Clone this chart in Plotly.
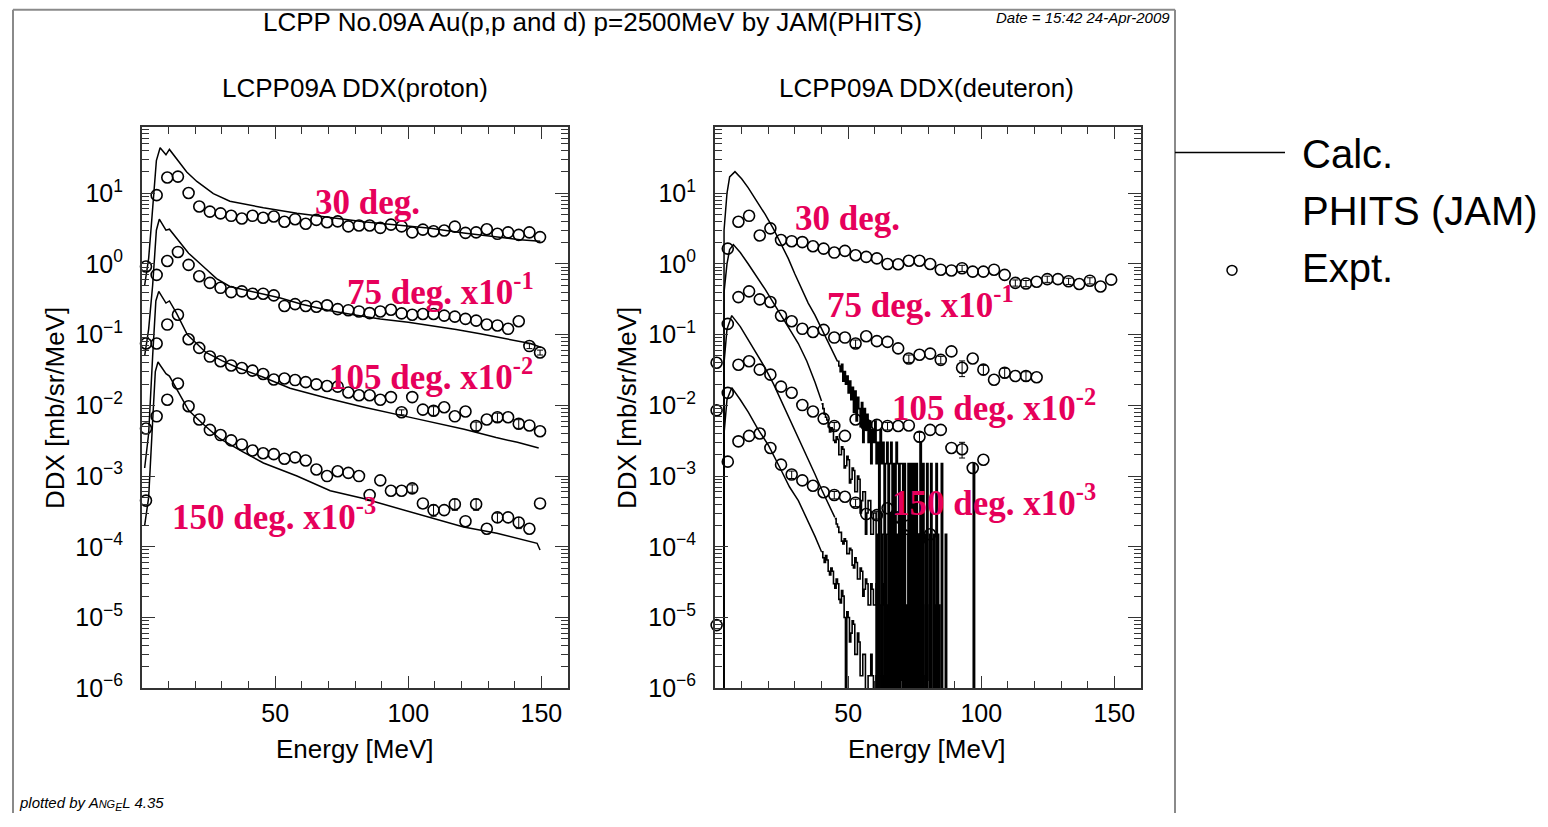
import plotly.graph_objects as go

W, H = 1548, 827

# ---------------- Proton DDX (left panel) ----------------
P_E = [1.5, 5.5, 9.5, 13.5, 17.5, 21.5, 25.5, 29.5, 33.5, 37.5, 41.5, 45.5, 49.5, 53.5,
       57.5, 61.5, 65.5, 69.5, 73.5, 77.5, 81.5, 85.5, 89.5, 93.5, 97.5, 101.5, 105.5,
       109.5, 113.5, 117.5, 121.5, 125.5, 129.5, 133.5, 137.5, 141.5, 145.5, 149.5]
P30_exp = [0.92, 9.4, 16.7, 17.2, 10.1, 6.5, 5.5, 5.2, 4.8, 4.4, 4.8, 4.5, 4.7, 3.95, 4.3,
           3.7, 4.2, 3.9, 4.0, 3.4, 3.5, 3.5, 3.24, 3.6, 3.4, 2.8, 3.06, 2.9, 2.97, 3.37,
           2.75, 2.8, 3.1, 2.67, 2.8, 2.58, 2.8, 2.4]
P75_exp = [0.075, 0.70, 1.10, 1.48, 0.97, 0.67, 0.54, 0.46, 0.40, 0.41, 0.38, 0.38, 0.36,
           0.255, 0.27, 0.255, 0.248, 0.26, 0.23, 0.222, 0.213, 0.202, 0.213, 0.225, 0.2,
           0.191, 0.196, 0.196, 0.186, 0.18, 0.167, 0.158, 0.139, 0.135, 0.121, 0.155,
           0.069, 0.056]
P105_exp = [0.0047, 0.075, 0.139, 0.191, 0.086, 0.065, 0.049, 0.042, 0.0367, 0.0337, 0.031,
            0.0278, 0.0232, 0.024, 0.0228, 0.0213, 0.0198, 0.0188, 0.0184, 0.0152, 0.0139,
            0.0139, 0.012, 0.0131, 0.008, 0.0131, 0.0087, 0.0084, 0.0094, 0.007, 0.0082,
            0.0051, 0.0063, 0.0068, 0.0068, 0.0055, 0.0052, 0.0043]
P150_exp = [0.00045, 0.007, 0.012, 0.0204, 0.0097, 0.0063, 0.0045, 0.0038, 0.0032, 0.0028,
            0.0023, 0.0021, 0.00204, 0.00176, 0.00184, 0.00166, 0.00124, 0.001, 0.00117,
            0.00111, 0.001, 0.00054, 0.00087, 0.00062, 0.00062, 0.00067, 0.00041, 0.00033,
            0.00033, 0.0004, 0.00023, 0.0004, 0.00018, 0.00026, 0.00026, 0.00022, 0.00018,
            0.00041]
# relative errors in percent (0 = no visible bar)
P30_err = [0] * 38
P75_err = [0] * 36 + [8, 8]
P105_err = [0, 0, 0, 0, 0, 0, 0, 0, 0, 0, 0, 0, 0, 0, 0, 0, 0, 0, 0, 0, 0, 0, 0, 0, 8, 0, 0,
            14, 0, 0, 0, 14, 0, 14, 0, 14, 0, 0]
P150_err = [0, 0, 0, 0, 0, 0, 0, 0, 0, 0, 0, 0, 0, 0, 0, 0, 0, 0, 0, 0, 0, 0, 0, 0, 0, 12, 0,
            18, 0, 18, 0, 18, 0, 15, 0, 18, 0, 0]

P30_cE = [1.0, 2.5, 3.5, 4.5, 5.4, 6.8, 9.0, 10.3, 13, 16.8, 20.6, 26.8, 33, 45.6, 58.2,
          70.7, 83.2, 95.7, 108.3, 120.8, 133.3, 142, 149.6]
P30_cV = [0.5, 1.2, 3.5, 12, 29, 44, 35, 41.7, 31, 20, 14.7, 9.9, 7.7, 6.25, 5.2, 4.5,
          3.95, 3.56, 3.2, 2.75, 2.4, 2.2, 2.1]
P75_cE = [1.0, 2.5, 4.0, 5.4, 6.5, 9.0, 10.3, 13, 17.5, 23, 28, 33, 40, 45, 52, 60, 70.7,
          80, 89.5, 100, 108.3, 118, 127, 137, 145.9, 150]
P75_cV = [0.05, 0.12, 0.5, 3.0, 4.3, 3.0, 3.1, 2.3, 1.42, 0.92, 0.62, 0.48, 0.42, 0.38,
          0.33, 0.27, 0.218, 0.19, 0.167, 0.15, 0.135, 0.118, 0.103, 0.088, 0.075, 0.066]
P105_cE = [1.0, 2.5, 4.0, 5.2, 6.3, 9.0, 10.3, 13, 17, 24, 30, 36, 45.6, 55.6, 70, 83,
           102, 121, 133, 141, 149]
P105_cV = [0.0013, 0.004, 0.05, 0.3, 0.41, 0.28, 0.3, 0.2, 0.1, 0.056, 0.043, 0.034,
           0.025, 0.0175, 0.0125, 0.0095, 0.0066, 0.0046, 0.0035, 0.003, 0.0025]
P150_cE = [1.0, 2.5, 4.0, 5.0, 6.0, 9.0, 10.3, 13, 17.5, 22.8, 29.1, 37.9, 45.6, 58.2,
           70.7, 83.2, 102, 120.8, 133.3, 141, 148.4, 149.5]
P150_cV = [0.0002, 0.0005, 0.006, 0.03, 0.041, 0.028, 0.026, 0.017, 0.0085, 0.0055,
           0.0034, 0.0022, 0.00153, 0.001, 0.00062, 0.00048, 0.0003, 0.00019, 0.000155,
           0.00013, 0.000112, 0.00009]

# ---------------- Deuteron DDX (right panel) ----------------
D30_E = [0.6, 4.8, 8.8, 12.8, 16.8, 20.8, 24.8, 28.8, 32.8, 36.8, 40.8, 44.8, 48.8, 52.8,
         56.8, 60.8, 64.8, 68.8, 72.8, 76.8, 80.8, 84.8, 88.8, 92.8, 96.8, 100.8, 104.8,
         108.8, 112.8, 116.8, 120.8, 124.8, 128.8, 132.8, 136.8, 140.8, 144.8, 148.8]
D30_exp = [0.04, 1.65, 3.95, 4.8, 2.53, 3.19, 2.18, 2.1, 2.04, 1.78, 1.65, 1.45, 1.53,
           1.33, 1.26, 1.2, 1.0, 0.99, 1.11, 1.11, 1.0, 0.83, 0.81, 0.87, 0.78, 0.78, 0.83,
           0.70, 0.54, 0.53, 0.56, 0.61, 0.61, 0.57, 0.52, 0.58, 0.48, 0.60]
D30_err = [0, 0, 0, 0, 0, 0, 0, 0, 0, 0, 0, 0, 0, 0, 0, 0, 0, 0, 0, 0, 0, 0, 0, 10, 0, 0,
           0, 0, 10, 10, 0, 10, 0, 10, 0, 10, 0, 0]
D75_E = [0.6, 4.8, 8.8, 12.8, 16.8, 20.8, 24.8, 28.8, 32.8, 36.8, 40.8, 44.8, 48.8, 52.8,
         56.8, 60.8, 64.8, 68.8, 72.8, 76.8, 80.8, 84.8, 88.8, 92.8, 96.8, 100.8, 104.8,
         108.8, 112.8, 116.8, 120.8]
D75_exp = [0.0085, 0.142, 0.34, 0.41, 0.316, 0.29, 0.185, 0.155, 0.121, 0.109, 0.117,
           0.091, 0.091, 0.075, 0.095, 0.081, 0.079, 0.064, 0.046, 0.052, 0.054, 0.044,
           0.058, 0.034, 0.046, 0.032, 0.023, 0.029, 0.026, 0.026, 0.025]
D75_err = [0, 0, 0, 0, 0, 0, 0, 0, 0, 0, 0, 0, 0, 12, 0, 0, 0, 0, 12, 0, 0, 12, 0, 25, 0,
           15, 0, 15, 0, 15, 0]
D105_E = [4.8, 8.8, 12.8, 16.8, 20.8, 24.8, 28.8, 32.8, 36.8, 40.8, 44.8, 48.8, 52.8,
          56.8, 60.8, 64.8, 68.8, 72.8, 76.8, 80.8, 84.8, 88.8, 92.8, 96.8, 100.8]
D105_exp = [0.015, 0.0375, 0.042, 0.032, 0.0272, 0.0184, 0.0151, 0.0101, 0.0082, 0.0065,
            0.0051, 0.0037, 0.0063, 0.0053, 0.0053, 0.0051, 0.0051, 0.0052, 0.0036, 0.0045,
            0.0045, 0.0025, 0.0024, 0.0013, 0.0017]
D105_err = [0, 0, 0, 0, 0, 0, 0, 0, 0, 0, 12, 0, 0, 0, 0, 12, 0, 0, 15, 0, 0, 0, 25, 0, 0]
D150_E = [0.6, 4.8, 8.8, 12.8, 16.8, 20.8, 24.8, 28.8, 32.8, 36.8, 40.8, 44.8, 48.8, 52.8,
          56.8, 60.8, 64.8, 68.8, 72.8, 76.8, 80.8]
D150_exp = [7.8e-6, 0.0016, 0.0031, 0.0037, 0.004, 0.0025, 0.00145, 0.00105, 0.00087,
            0.00073, 0.00059, 0.00054, 0.00051, 0.00042, 0.00029, 0.00028, 0.00035,
            0.00026, 0.0002, 0.000126, 0.00015]
D150_err = [0, 0, 0, 0, 0, 0, 0, 12, 0, 0, 0, 12, 0, 12, 0, 12, 0, 12, 0, 12, 0]

# calculated: smooth part (knots) followed by a 0.5-MeV histogram tail (0 = empty bin)
TAIL_BIN = 0.5
D30_cE = [3.3, 3.4, 4.5, 5.5, 7.5, 10, 12.5, 15.5, 18.8, 22, 25, 27.5, 30, 32.5, 35, 37.5,
          40, 42, 44, 46]
D30_cV = [0, 3, 10, 17, 20.2, 16, 11.9, 8, 5.06, 3.1, 1.9, 1.2, 0.72, 0.45, 0.28, 0.19,
          0.12, 0.085, 0.06, 0.042]
D30_tail_start = 46
D30_tail = [0.042, 0.036, 0.03, 0.038, 0.022, 0.03, 0.02, 0.026,
            0.015, 0.022, 0.012, 0.018, 0.008, 0.016, 0.006, 0.013, 0.009, 0.005,
            0.011, 0.003, 0.009, 0.0045, 0.0075, 0.003, 0.006, 0.0015, 0.0045, 0.003,
            0.006, 0.0015, 0.003, 0, 0.0045, 0.0015, 0.003, 0, 0.0015, 0.003,
            0, 0.0015, 0.003, 0, 0.0015, 0, 0.003, 0.0015, 0, 0.0015,
            0.0015, 0, 0.0015, 0, 0, 0.0015, 0, 0.0015, 0, 0.0015,
            0, 0.0015, 0, 0, 0.003, 0, 0.0015, 0, 0, 0.0015,
            0, 0, 0.0015, 0, 0, 0, 0.0015, 0, 0, 0,
            0.0015, 0, 0, 0, 0, 0, 0, 0, 0, 0,
            0, 0, 0, 0, 0, 0, 0, 0, 0, 0,
            0, 0, 0, 0, 0.0015, 0, 0, 0, 0, 0]
D75_cE = [3.3, 3.4, 4.5, 5.5, 6.9, 9.5, 12.5, 15.5, 18.8, 22, 25, 28, 31.3, 34.5, 37.6, 40]
D75_cV = [0, 0.4, 1.0, 1.6, 1.88, 1.45, 1.0, 0.68, 0.44, 0.28, 0.18, 0.12, 0.075, 0.042,
          0.021, 0.0115]
D75_tail_start = 40
D75_tail = [0.0105, 0.009, 0.0075, 0.0068, 0.0062, 0.005, 0.0042, 0.0048, 0.0046, 0.0032,
            0.003, 0.0036, 0.0033, 0.002, 0.002, 0.0026, 0.0024, 0.0013, 0.0014, 0.0019,
            0.0017, 0.0008, 0.0009, 0.0013, 0.0012, 0.0006, 0.0006, 0.0010, 0.0009, 0.0003,
            0.00045, 0.0006, 0.0006, 0.00015, 0.0003, 0.00045, 0.00045, 0.00015, 0.00015,
            0.0003,
            0.0003, 0, 0.00015, 0.0003, 0.0003, 0, 0.00015, 0.00015, 0, 0.00015,
            0.00015, 0, 0.0003, 0, 0.00015, 0.00015, 0, 0.00015, 0, 0.0003,
            0, 0.00015, 0, 0.00015, 0.00015, 0, 0.00015, 0, 0.00015, 0,
            0.00015, 0, 0, 0.00015, 0, 0.00015, 0, 0, 0.00015, 0,
            0, 0.00015, 0, 0, 0.00015, 0, 0, 0.00015, 0, 0,
            0, 0, 0, 0.00015, 0, 0, 0, 0, 0, 0]
D105_cE = [3.3, 3.4, 4.5, 6.3, 9.5, 12.5, 15.5, 18.8, 22, 26.3, 29.5, 32.6, 35, 37.6, 40,
           42.6, 45]
D105_cV = [0, 0.04, 0.12, 0.186, 0.13, 0.085, 0.055, 0.034, 0.02, 0.009, 0.005, 0.0028,
           0.0017, 0.00105, 0.00065, 0.00041, 0.00026]
D105_tail_start = 45
D105_tail = [0.00025, 0.00021, 0.00019, 0.00016, 0.00016, 0.00012, 0.00011, 0.00013,
             0.00012, 0.00008,
             8e-5, 9.5e-5, 9e-5, 5.5e-5, 5e-5, 7e-5, 6e-5, 3.5e-5, 3.5e-5, 5e-5,
             4.5e-5, 2e-5, 2.5e-5, 3.5e-5, 3e-5, 1.5e-5, 1.5e-5, 3e-5, 2.5e-5, 1.5e-5,
             1.5e-5, 3e-5, 1.5e-5, 0, 1.5e-5, 1.5e-5, 3e-5, 0, 1.5e-5, 0,
             1.5e-5, 1.5e-5, 0, 1.5e-5, 0, 3e-5, 1.5e-5, 0, 1.5e-5, 0,
             0, 1.5e-5, 1.5e-5, 0, 1.5e-5, 0, 0, 1.5e-5, 0, 1.5e-5,
             1.5e-5, 0, 0, 1.5e-5, 0, 1.5e-5, 0, 0, 1.5e-5, 0,
             0, 1.5e-5, 0, 0, 0, 1.5e-5, 0, 0, 1.5e-5, 0,
             0, 0, 0, 0]
D150_cE = [3.3, 3.4, 4.5, 6.3, 9.5, 12.5, 16, 20, 25, 28, 31.3, 34.5, 37.6, 40]
D150_cV = [0, 0.004, 0.012, 0.0178, 0.012, 0.008, 0.0047, 0.00275, 0.00118, 0.0007,
           0.00045, 0.00025, 0.000139, 8.5e-5]
D150_tail_start = 40
D150_tail = [8.5e-5, 7e-5, 6e-5, 7.5e-5, 6.5e-5, 4.5e-5, 4e-5, 5e-5, 4.5e-5, 3e-5,
             2.6e-5, 3.5e-5, 3e-5, 1.8e-5, 1.6e-5, 2.4e-5, 2e-5, 1e-5, 0, 1.2e-5,
             1e-5, 4.5e-6, 6e-6, 9e-6, 8e-6, 3e-6, 3e-6, 6e-6, 4.5e-6, 1.5e-6,
             1.5e-6, 3e-6, 3e-6, 0, 0, 1.5e-6, 1.5e-6, 3e-6, 1.5e-6, 0,
             0, 1.5e-6, 0, 1.5e-6, 1.5e-6, 0, 1.5e-6, 0, 0, 1.5e-6,
             0, 1.5e-6, 0, 1.5e-6, 0, 0, 1.5e-6, 0, 1.5e-6, 0,
             1.5e-6, 0, 0, 1.5e-6, 0, 1.5e-6, 0, 0, 0, 1.5e-6,
             0, 0, 1.5e-6, 0, 0, 0, 1.5e-6, 0, 0, 0]

# angle labels: (text, energy, log10 position)
P_labels = [("30 deg.", 64.3, 0.87), ("75 deg. x10<sup>-1</sup>", 76.3, -0.36),
            ("105 deg. x10<sup>-2</sup>", 69.5, -1.56), ("150 deg. x10<sup>-3</sup>", 10.5, -3.54)]
D_labels = [("30 deg.", 29.3, 0.65), ("75 deg. x10<sup>-1</sup>", 41.4, -0.54),
            ("105 deg. x10<sup>-2</sup>", 65.8, -2.0), ("150 deg. x10<sup>-3</sup>", 65.8, -3.35)]

Y_TICKS = [1e1, 1e0, 1e-1, 1e-2, 1e-3, 1e-4, 1e-5, 1e-6]
Y_TEXT = ["10<sup>1</sup>", "10<sup>0</sup>", "10<sup>\u22121</sup>", "10<sup>\u22122</sup>",
          "10<sup>\u22123</sup>", "10<sup>\u22124</sup>", "10<sup>\u22125</sup>",
          "10<sup>\u22126</sup>"]
X_TICKS = [50, 100, 150]

FONT = "Liberation Sans, Arial, Helvetica, sans-serif"
LABEL_COLOR = "#E6005A"
EMPTY = 1e-9  # plotted value for empty bins (falls below the axis range)

fig = go.Figure()


def calc_line(E, V, xa, ya):
    fig.add_trace(go.Scatter(x=E, y=[v if v > 0 else EMPTY for v in V], mode="lines",
                             line=dict(color="black", width=1.5), xaxis=xa, yaxis=ya,
                             showlegend=False, hoverinfo="skip"))


def calc_tail(start, V, xa, ya):
    xs = [start + i * TAIL_BIN for i in range(len(V))] + [start + len(V) * TAIL_BIN]
    ys = [v if v > 0 else EMPTY for v in V] + [V[-1] if V[-1] > 0 else EMPTY]
    fig.add_trace(go.Scatter(x=xs, y=ys, mode="lines",
                             line=dict(color="black", width=1.6, shape="hv"),
                             xaxis=xa, yaxis=ya, showlegend=False, hoverinfo="skip"))


def expt(E, V, err, xa, ya):
    fig.add_trace(go.Scatter(
        x=E, y=V, mode="markers", cliponaxis=False,
        marker=dict(symbol="circle-open", size=11, color="black", line=dict(width=1.6)),
        xaxis=xa, yaxis=ya, showlegend=False))
    sel = [i for i, e in enumerate(err) if e > 0]
    if sel:
        fig.add_trace(go.Scatter(
            x=[E[i] for i in sel], y=[V[i] for i in sel], mode="markers",
            marker=dict(size=2, color="rgba(0,0,0,0)"),
            error_y=dict(type="data", array=[V[i] * err[i] / 100.0 for i in sel],
                         color="black", thickness=1, width=3, visible=True),
            xaxis=xa, yaxis=ya, showlegend=False, hoverinfo="skip"))


calc_line(P30_cE, P30_cV, "x", "y")
calc_line(P75_cE, P75_cV, "x", "y")
calc_line(P105_cE, P105_cV, "x", "y")
calc_line(P150_cE, P150_cV, "x", "y")
expt(P_E, P30_exp, P30_err, "x", "y")
expt(P_E, P75_exp, P75_err, "x", "y")
expt(P_E, P105_exp, P105_err, "x", "y")
expt(P_E, P150_exp, P150_err, "x", "y")

calc_line(D30_cE, D30_cV, "x2", "y2")
calc_tail(D30_tail_start, D30_tail, "x2", "y2")
calc_line(D75_cE, D75_cV, "x2", "y2")
calc_tail(D75_tail_start, D75_tail, "x2", "y2")
calc_line(D105_cE, D105_cV, "x2", "y2")
calc_tail(D105_tail_start, D105_tail, "x2", "y2")
calc_line(D150_cE, D150_cV, "x2", "y2")
calc_tail(D150_tail_start, D150_tail, "x2", "y2")
expt(D30_E, D30_exp, D30_err, "x2", "y2")
expt(D75_E, D75_exp, D75_err, "x2", "y2")
expt(D105_E, D105_exp, D105_err, "x2", "y2")
expt(D150_E, D150_exp, D150_err, "x2", "y2")


def px(x):
    return x / W


def py(y):
    return 1 - y / H


xax = dict(range=[0, 160], tickmode="array", tickvals=X_TICKS, ticks="inside", ticklen=12,
           tickwidth=1.3, tickcolor="#333", showline=True, linecolor="#333", linewidth=2,
           mirror="allticks", showgrid=False, zeroline=False,
           tickfont=dict(family=FONT, size=25, color="black"), ticklabelstandoff=2,
           minor=dict(tickmode="linear", tick0=0, dtick=10, ticks="inside", ticklen=7,
                      tickwidth=1.2, tickcolor="#333", showgrid=False))
minor_y = [m * 10.0 ** k for k in range(-6, 2) for m in range(2, 10)]
yax = dict(type="log", range=[-6, 1.94], tickmode="array", tickvals=Y_TICKS, ticktext=Y_TEXT,
           ticks="inside", ticklen=13, tickwidth=1.3, tickcolor="#333", showline=True,
           linecolor="#333", linewidth=2, mirror="allticks", showgrid=False, zeroline=False,
           tickfont=dict(family=FONT, size=25, color="black"), ticklabelstandoff=12,
           minor=dict(tickmode="array", tickvals=minor_y, ticks="inside", ticklen=7,
                      tickwidth=1.1, tickcolor="#333", showgrid=False))

ydom = [py(700), py(129)]
fig.update_layout(
    width=W, height=H, margin=dict(l=0, r=0, t=0, b=0), autosize=False,
    plot_bgcolor="white", paper_bgcolor="white", showlegend=False,
    xaxis=dict(xax, domain=[px(142), px(568)], anchor="y"),
    yaxis=dict(yax, domain=ydom, anchor="x"),
    xaxis2=dict(xax, domain=[px(715), px(1141)], anchor="y2"),
    yaxis2=dict(yax, domain=ydom, anchor="x2"),
)

ann = []


def text(x, y, s, size=26, xanchor="center", angle=0, family=FONT, color="black", **kw):
    ann.append(dict(x=px(x), y=py(y), xref="paper", yref="paper", text=s, showarrow=False,
                    xanchor=xanchor, yanchor="middle", textangle=angle,
                    font=dict(family=family, size=size, color=color), **kw))


text(592, 22, "LCPP No.09A Au(p,p and d) p=2500MeV by JAM(PHITS)", size=26)
text(1172, 18, "<i>Date = 15:42 24-Apr-2009</i>", size=15, xanchor="right")
text(355, 90, "LCPP09A DDX(proton)", size=26)
text(927, 90, "LCPP09A DDX(deuteron)", size=26)
text(355, 762, "Energy [MeV]", size=26)
text(927, 762, "Energy [MeV]", size=26)
text(55, 415, "DDX [mb/sr/MeV]", size=26, angle=-90)
text(627, 415, "DDX [mb/sr/MeV]", size=26, angle=-90)
text(17, 817, "<i>plotted by A<span style='font-size:11px'>NG</span><sub>E</sub>L 4.35</i>",
     size=15, xanchor="left")

text(1300, 157, "Calc.", size=40, xanchor="left")
text(1300, 215, "PHITS (JAM)", size=40, xanchor="left")
text(1300, 273, "Expt.", size=40, xanchor="left")

LBL_FONT = dict(family="Liberation Serif, Times New Roman, serif", size=35,
                color=LABEL_COLOR, weight="bold")
for s, e, ly in P_labels:
    ann.append(dict(x=e, y=ly, xref="x", yref="y", text=s, showarrow=False, xanchor="left",
                    yanchor="middle", font=LBL_FONT))
for s, e, ly in D_labels:
    ann.append(dict(x=e, y=ly, xref="x2", yref="y2", text=s, showarrow=False, xanchor="left",
                    yanchor="middle", font=LBL_FONT))

fig.update_layout(annotations=ann)

FRAME = dict(color="#8a8a8a", width=2)
shapes = [
    # page frame (left, top, right edges; it continues below the picture)
    dict(type="line", xref="paper", yref="paper", x0=px(13), x1=px(13), y0=0, y1=py(10),
         line=FRAME, layer="below"),
    dict(type="line", xref="paper", yref="paper", x0=px(13), x1=px(1175), y0=py(10),
         y1=py(10), line=FRAME, layer="below"),
    dict(type="line", xref="paper", yref="paper", x0=px(1175), x1=px(1175), y0=0, y1=py(10),
         line=FRAME, layer="below"),
    # legend symbols
    dict(type="line", xref="paper", yref="paper", x0=px(1175), x1=px(1285), y0=py(155),
         y1=py(155), line=dict(color="black", width=1.5)),
    dict(type="circle", xref="paper", yref="paper", x0=px(1227), x1=px(1237), y0=py(280),
         y1=py(270), line=dict(color="black", width=1.5)),
]
fig.update_layout(shapes=shapes)

fig.write_html("out.html")
